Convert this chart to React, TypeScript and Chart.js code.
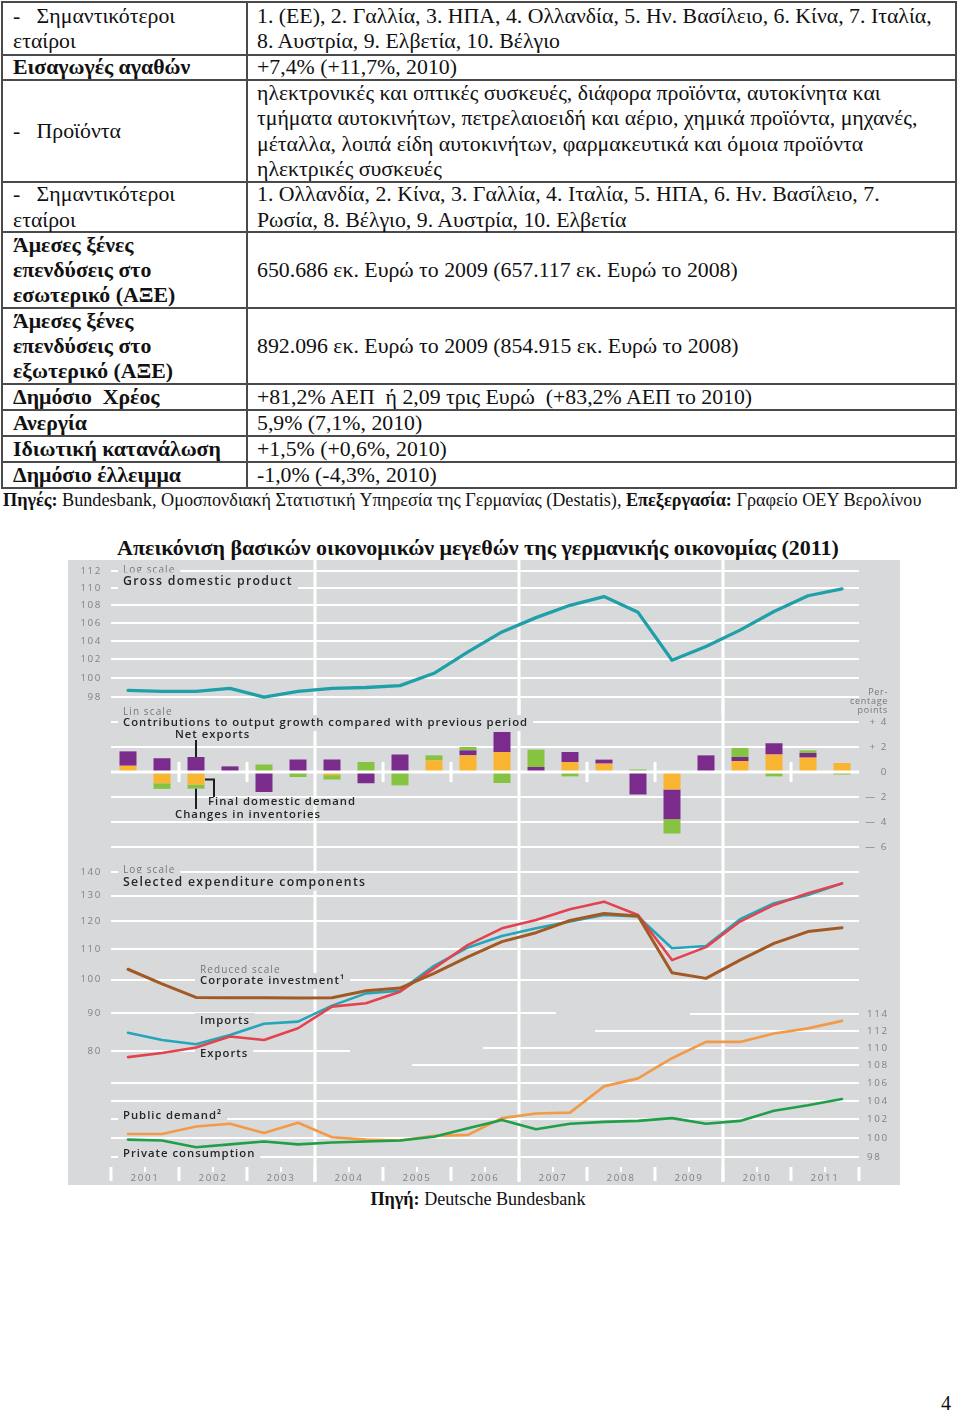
import React, { useEffect, useRef } from "react";
import { Chart, registerables } from "chart.js";
Chart.register(...registerables);

// ---------- data ----------
const HALF_YEARS = [
  "2001 H1", "2001 H2", "2002 H1", "2002 H2", "2003 H1", "2003 H2", "2004 H1", "2004 H2",
  "2005 H1", "2005 H2", "2006 H1", "2006 H2", "2007 H1", "2007 H2", "2008 H1", "2008 H2",
  "2009 H1", "2009 H2", "2010 H1", "2010 H2", "2011 H1", "2011 H2",
];
const YEARS = ["2001", "2002", "2003", "2004", "2005", "2006", "2007", "2008", "2009", "2010", "2011"];

const GDP = [98.7, 98.6, 98.6, 98.9, 98.0, 98.6, 98.9, 99.0, 99.2, 100.5, 102.8, 105.0, 106.6, 108.0, 109.0, 107.2, 101.9, 103.4, 105.2, 107.3, 109.1, 109.9];
const GDP_TICKS = [98, 100, 102, 104, 106, 108, 110, 112];

const FINAL_DOMESTIC_DEMAND = [0.5, -0.9, -1.0, 0, 0, 0, -0.25, 0, 0, 0.93, 1.33, 1.6, 0, 0.8, 0.67, 0, -1.4, 0, 0.88, 1.4, 1.15, 0.72];
const NET_EXPORTS = [1.15, 1.1, 1.2, 0.45, -1.6, 1.0, 1.0, -0.9, 1.4, 0, 0.4, 1.6, 0.4, 0.8, 0.32, -1.8, -2.37, 1.33, 0.32, 0.9, 0.37, 0];
const INVENTORIES = [0, -0.45, -0.33, 0, 0.6, -0.4, -0.35, 0.8, -1.07, 0.4, 0.27, -0.88, 1.39, -0.35, 0, 0.2, -1.15, 0, 0.72, -0.35, 0.21, -0.2];
const CONTRIB_TICKS = [4, 2, 0, -2, -4, -6];
const CONTRIB_TICK_LABELS = ["+ 4", "+ 2", "0", "— 2", "— 4", "— 6"];

const CORPORATE_INVESTMENT = [103.3, 98.7, 94.6, 94.5, 94.5, 94.4, 94.5, 96.6, 97.4, 102.0, 107.4, 112.6, 115.8, 120.3, 123.0, 122.0, 102.2, 100.4, 106.3, 112.0, 116.2, 117.6];
const EXPORTS = [78.5, 79.5, 80.9, 83.7, 82.8, 85.9, 91.9, 92.9, 96.3, 103.6, 111.5, 117.4, 120.5, 124.6, 127.6, 122.4, 106.3, 110.7, 119.9, 126.3, 131.0, 135.1];
const IMPORTS = [84.7, 82.8, 81.7, 84.1, 87.1, 87.7, 92.2, 95.8, 96.6, 104.4, 110.6, 114.6, 117.4, 119.9, 122.4, 121.8, 110.3, 111.1, 120.8, 127.0, 130.3, 135.1];
const PUBLIC_DEMAND = [100.4, 100.4, 101.2, 101.5, 100.5, 101.6, 100.05, 99.8, 99.7, 100.2, 100.3, 102.1, 102.6, 102.7, 105.6, 106.5, 108.8, 110.7, 110.7, 111.7, 112.3, 113.2];
const PRIVATE_CONSUMPTION = [99.8, 99.7, 99.0, 99.3, 99.6, 99.3, 99.5, 99.6, 99.7, 100.1, 101.0, 101.9, 100.9, 101.5, 101.7, 101.8, 102.1, 101.5, 101.8, 102.9, 103.5, 104.2];
const LEFT_TICKS = [140, 130, 120, 110, 100, 90, 80];
const RIGHT_TICKS = [114, 112, 110, 108, 106, 104, 102, 100, 98];

// ---------- styles ----------
const BG = "#d8d9db";
const DARK = "#262626";
const SANS = '"Open Sans", "Noto Sans", "DejaVu Sans", sans-serif';
const C_TEAL = "#1fa0a8";
const C_IMPORTS = "#25a6b8";
const C_EXPORTS = "#e2434f";
const C_CORP = "#a25a25";
const C_PUBLIC = "#f39a48";
const C_PRIVATE = "#1f9f48";
const C_PURPLE = "#7a2b8c";
const C_ORANGE = "#f9b531";
const C_GREEN = "#86c340";

type TextOpts = { size: number; weight?: number; color?: string; align?: CanvasTextAlign; spacing?: number; mask?: boolean };
const TITLE: TextOpts = { size: 12.3, weight: 600, color: DARK, spacing: 1.3, mask: true };
const NOTE: TextOpts = { size: 11.3, weight: 600, color: DARK, spacing: 1.0, mask: true };
const SCALE_NOTE: TextOpts = { size: 10, weight: 400, color: "#777777", spacing: 1.1, mask: true };
const TICK: TextOpts = { size: 9.8, weight: 400, color: "#828282", spacing: 1.6 };

function drawText(ctx: CanvasRenderingContext2D, text: string, x: number, y: number, o: TextOpts) {
  ctx.save();
  ctx.font = `${o.weight ?? 400} ${o.size}px ${SANS}`;
  (ctx as any).letterSpacing = `${o.spacing ?? 0}px`;
  ctx.textAlign = o.align ?? "left";
  ctx.textBaseline = "middle";
  if (o.mask) {
    const w = ctx.measureText(text).width;
    const x0 = ctx.textAlign === "right" ? x - w : ctx.textAlign === "center" ? x - w / 2 : x;
    ctx.fillStyle = BG;
    ctx.fillRect(x0 - 5, y - o.size * 0.7, w + 10, o.size * 1.4);
  }
  ctx.fillStyle = o.color ?? DARK;
  ctx.fillText(text, x, y);
  ctx.restore();
}

function hline(ctx: CanvasRenderingContext2D, x1: number, x2: number, y: number, w = 2) {
  ctx.save();
  ctx.fillStyle = "#ffffff";
  ctx.fillRect(x1, Math.round(y) - w / 2, x2 - x1, w);
  ctx.restore();
}

function threeYearLines(chart: any, y1: number, y2: number) {
  const x = chart.scales.x;
  const ctx = chart.ctx as CanvasRenderingContext2D;
  ctx.save();
  ctx.fillStyle = "#ffffff";
  [5.5, 11.5, 17.5].forEach((v) => {
    const px = x.getPixelForValue(v);
    ctx.fillRect(px - 1.5, y1, 3, y2 - y1);
  });
  ctx.restore();
}

const topDecor = {
  id: "topDecor",
  beforeDatasetsDraw(chart: any) {
    const { ctx, chartArea, scales } = chart;
    const { left, right } = chartArea;
    GDP_TICKS.forEach((v) => hline(ctx, left, right, scales.y.getPixelForValue(v)));
    threeYearLines(chart, 0, chart.height);
    drawText(ctx, "Log scale", left + 12, 10, SCALE_NOTE);
    drawText(ctx, "Gross domestic product", left + 12, 21, TITLE);
    GDP_TICKS.forEach((v) => drawText(ctx, String(v), left - 9, scales.y.getPixelForValue(v), { ...TICK, align: "right" }));
    const g: TextOpts = { size: 9, color: "#777777", spacing: 0.7, align: "right" };
    drawText(ctx, "Per-", right + 29, 132, g);
    drawText(ctx, "centage", right + 29, 141, g);
    drawText(ctx, "points", right + 29, 150, g);
  },
};

const midDecor = {
  id: "midDecor",
  beforeDatasetsDraw(chart: any) {
    const { ctx, chartArea, scales } = chart;
    const { left, right } = chartArea;
    CONTRIB_TICKS.forEach((v) => { if (v !== 0) hline(ctx, left, right, scales.y.getPixelForValue(v)); });
    threeYearLines(chart, 0, chart.height);
    drawText(ctx, "Lin scale", left + 12, 12, SCALE_NOTE);
    drawText(ctx, "Contributions to output growth compared with previous period", left + 12, 23, NOTE);
    CONTRIB_TICKS.forEach((v, i) =>
      drawText(ctx, CONTRIB_TICK_LABELS[i], right + 29, scales.y.getPixelForValue(v), { ...TICK, align: "right" }));
  },
  afterDatasetsDraw(chart: any) {
    const { ctx, chartArea, scales } = chart;
    const { left, right } = chartArea;
    const y0 = scales.y.getPixelForValue(0);
    hline(ctx, left, right, y0, 3);
    ctx.save();
    ctx.fillStyle = "#ffffff";
    for (let k = 1; k <= 10; k++) {
      if (k % 3 === 0) continue;
      const bx = scales.x.getPixelForValue(2 * k - 0.5);
      ctx.fillRect(bx - 1.5, y0 - 10, 3, 20);
    }
    ctx.restore();
    // annotations on the third bar
    const i = 2;
    const bx = scales.x.getPixelForValue(i);
    const vals = [FINAL_DOMESTIC_DEMAND[i], NET_EXPORTS[i], INVENTORIES[i]];
    const pos = vals.filter((v) => v > 0).reduce((a, b) => a + b, 0);
    const neg = vals.filter((v) => v < 0).reduce((a, b) => a + b, 0);
    ctx.save();
    ctx.strokeStyle = "#1e1e1e";
    ctx.lineWidth = 2;
    ctx.beginPath();
    ctx.moveTo(bx, 40);
    ctx.lineTo(bx, scales.y.getPixelForValue(pos));
    ctx.moveTo(bx, scales.y.getPixelForValue(neg));
    ctx.lineTo(bx, 109);
    const fy = scales.y.getPixelForValue(FINAL_DOMESTIC_DEMAND[i] * 0.6);
    ctx.moveTo(bx + 9, fy);
    ctx.lineTo(bx + 18, fy);
    ctx.lineTo(bx + 18, 97);
    ctx.stroke();
    ctx.restore();
    drawText(ctx, "Net exports", bx - 21, 35, { ...NOTE, mask: false });
    drawText(ctx, "Final domestic demand", bx + 12, 102, { ...NOTE, mask: false });
    drawText(ctx, "Changes in inventories", bx - 21, 115, { ...NOTE, mask: false });
  },
};

const LEFT_SPANS: Record<number, [number, number]> = { 90: [0, 488], 80: [0, 282] };
const RIGHT_SPANS: Record<number, [number, number]> = { 114: [622, 9999], 112: [527, 9999], 110: [415, 9999], 108: [344, 9999] };

const botDecor = {
  id: "botDecor",
  beforeDatasetsDraw(chart: any) {
    const { ctx, chartArea, scales } = chart;
    const { left, right } = chartArea;
    LEFT_TICKS.forEach((v) => {
      const s = LEFT_SPANS[v] ?? [0, 9999];
      hline(ctx, Math.max(left, s[0]), Math.min(right, s[1]), scales.y.getPixelForValue(v));
    });
    RIGHT_TICKS.forEach((v) => {
      const s = RIGHT_SPANS[v] ?? [0, 9999];
      hline(ctx, Math.max(left, s[0]), Math.min(right, s[1]), scales.y2.getPixelForValue(v));
    });
    threeYearLines(chart, 0, 322);
    drawText(ctx, "Log scale", left + 12, 10, SCALE_NOTE);
    drawText(ctx, "Selected expenditure components", left + 12, 22, TITLE);
    drawText(ctx, "Reduced scale", left + 89, 110, SCALE_NOTE);
    drawText(ctx, "Corporate investment\u00b9", left + 89, 121, NOTE);
    drawText(ctx, "Imports", left + 89, 161, NOTE);
    drawText(ctx, "Exports", left + 89, 194, NOTE);
    drawText(ctx, "Public demand\u00b2", left + 12, 256, NOTE);
    drawText(ctx, "Private consumption", left + 12, 294, NOTE);
    LEFT_TICKS.forEach((v) => drawText(ctx, String(v), left - 9, scales.y.getPixelForValue(v), { ...TICK, align: "right" }));
    RIGHT_TICKS.forEach((v) => drawText(ctx, String(v), right + 8, scales.y2.getPixelForValue(v), { ...TICK, align: "left" }));
    // time axis
    ctx.save();
    ctx.fillStyle = "#ffffff";
    for (let k = 0; k <= 11; k++) {
      const bx = scales.x.getPixelForValue(2 * k - 0.5);
      ctx.fillRect(bx - 1.5, 307, 3, 14);
    }
    ctx.restore();
    YEARS.forEach((yr, k) => {
      const cx = scales.x.getPixelForValue(2 * k + 0.5);
      ctx.save();
      ctx.fillStyle = "#ffffff";
      ctx.fillRect(cx - 1, 307, 2, 5);
      ctx.restore();
      drawText(ctx, yr, cx, 318, { ...TICK, align: "center" });
    });
  },
};

const PAD = { left: 43, right: 41 };
const xScale = { type: "category" as const, display: false, offset: true, grid: { display: false } };
const baseOptions = {
  animation: false as const,
  responsive: false,
  devicePixelRatio: 1,
  events: [] as any[],
  plugins: { legend: { display: false }, tooltip: { enabled: false } },
  elements: { point: { radius: 0 }, line: { tension: 0, borderCapStyle: "round" as const, borderJoinStyle: "round" as const } },
};

function topConfig(): any {
  return {
    type: "line",
    data: { labels: HALF_YEARS, datasets: [{ data: GDP, borderColor: C_TEAL, borderWidth: 3.3 }] },
    options: {
      ...baseOptions,
      layout: { padding: { ...PAD, top: 2, bottom: 13 } },
      scales: { x: xScale, y: { type: "logarithmic", display: false, min: 97.49, max: 113.07 } },
    },
    plugins: [topDecor],
  };
}

function midConfig(): any {
  const ds = (data: number[], color: string) => ({
    data, backgroundColor: color, borderWidth: 0, barPercentage: 0.5, categoryPercentage: 1, inflateAmount: 0,
  });
  return {
    type: "bar",
    data: {
      labels: HALF_YEARS,
      datasets: [ds(FINAL_DOMESTIC_DEMAND, C_ORANGE), ds(NET_EXPORTS, C_PURPLE), ds(INVENTORIES, C_GREEN)],
    },
    options: {
      ...baseOptions,
      layout: { padding: { ...PAD, top: 10, bottom: 5 } },
      scales: { x: { ...xScale, stacked: true }, y: { type: "linear", display: false, stacked: true, min: -6.64, max: 4.96 } },
    },
    plugins: [midDecor],
  };
}

function botConfig(): any {
  const ln = (data: number[], color: string, axis: string, w = 2.6) => ({ data, borderColor: color, borderWidth: w, yAxisID: axis });
  return {
    type: "line",
    data: {
      labels: HALF_YEARS,
      datasets: [
        ln(PRIVATE_CONSUMPTION, C_PRIVATE, "y2"),
        ln(PUBLIC_DEMAND, C_PUBLIC, "y2"),
        ln(CORPORATE_INVESTMENT, C_CORP, "y", 3),
        ln(EXPORTS, C_EXPORTS, "y"),
        ln(IMPORTS, C_IMPORTS, "y"),
      ],
    },
    options: {
      ...baseOptions,
      layout: { padding: { ...PAD, top: 4, bottom: 21 } },
      scales: {
        x: xScale,
        y: { type: "logarithmic", display: false, min: 56.2, max: 143.54 },
        y2: { type: "logarithmic", display: false, min: 97.25, max: 133.7 },
      },
    },
    plugins: [botDecor],
  };
}

// ---------- table ----------
const ROW_EDGES = [2, 55, 80, 182, 232, 308, 384, 410, 436, 462, 488];
const TABLE_ROWS: { left: string[]; bold: boolean; right: string[] }[] = [
  { left: ["-   Σημαντικότεροι", "εταίροι"], bold: false, right: ["1. (ΕΕ), 2. Γαλλία, 3. ΗΠΑ, 4. Ολλανδία, 5. Ην. Βασίλειο, 6. Κίνα, 7. Ιταλία,", "8. Αυστρία, 9. Ελβετία, 10. Βέλγιο"] },
  { left: ["Εισαγωγές αγαθών"], bold: true, right: ["+7,4% (+11,7%, 2010)"] },
  { left: ["-   Προϊόντα"], bold: false, right: ["ηλεκτρονικές και οπτικές συσκευές, διάφορα προϊόντα, αυτοκίνητα και", "τμήματα αυτοκινήτων, πετρελαιοειδή και αέριο, χημικά προϊόντα, μηχανές,", "μέταλλα, λοιπά είδη αυτοκινήτων, φαρμακευτικά και όμοια προϊόντα", "ηλεκτρικές συσκευές"] },
  { left: ["-   Σημαντικότεροι", "εταίροι"], bold: false, right: ["1. Ολλανδία, 2. Κίνα, 3. Γαλλία, 4. Ιταλία, 5. ΗΠΑ, 6. Ην. Βασίλειο, 7.", "Ρωσία, 8. Βέλγιο, 9. Αυστρία, 10. Ελβετία"] },
  { left: ["Άμεσες ξένες", "επενδύσεις στο", "εσωτερικό (ΑΞΕ)"], bold: true, right: ["650.686 εκ. Ευρώ το 2009 (657.117 εκ. Ευρώ το 2008)"] },
  { left: ["Άμεσες ξένες", "επενδύσεις στο", "εξωτερικό (ΑΞΕ)"], bold: true, right: ["892.096 εκ. Ευρώ το 2009 (854.915 εκ. Ευρώ το 2008)"] },
  { left: ["Δημόσιο  Χρέος"], bold: true, right: ["+81,2% ΑΕΠ  ή 2,09 τρις Ευρώ  (+83,2% ΑΕΠ το 2010)"] },
  { left: ["Ανεργία"], bold: true, right: ["5,9% (7,1%, 2010)"] },
  { left: ["Ιδιωτική κατανάλωση"], bold: true, right: ["+1,5% (+0,6%, 2010)"] },
  { left: ["Δημόσιο έλλειμμα"], bold: true, right: ["-1,0% (-4,3%, 2010)"] },
];
const COL_X = [2, 247, 956];

function Table() {
  const lineColor = "#4a4a4a";
  const cell = (x: number, top: number, h: number, lines: string[], bold: boolean, key: string) => (
    <div key={key} style={{ position: "absolute", left: x, top, height: h, display: "flex", flexDirection: "column", justifyContent: "center", whiteSpace: "pre", fontWeight: bold ? 700 : 400, lineHeight: "25.3px", fontSize: 21.8 }}>
      {lines.map((l, j) => <div key={j}>{l}</div>)}
    </div>
  );
  return (
    <>
      {ROW_EDGES.map((y, i) => (
        <div key={"h" + i} style={{ position: "absolute", left: COL_X[0], top: y - 1, width: COL_X[2] - COL_X[0] + 1, height: 2, background: lineColor }} />
      ))}
      {COL_X.map((x, i) => (
        <div key={"v" + i} style={{ position: "absolute", left: x - 1, top: ROW_EDGES[0] - 1, width: 2, height: ROW_EDGES[ROW_EDGES.length - 1] - ROW_EDGES[0] + 2, background: lineColor }} />
      ))}
      {TABLE_ROWS.map((r, i) => {
        const top = ROW_EDGES[i] + 1;
        const h = ROW_EDGES[i + 1] - ROW_EDGES[i] - 1;
        return [cell(13, top, h, r.left, r.bold, "l" + i), cell(257, top, h, r.right, false, "r" + i)];
      })}
    </>
  );
}

export default function App() {
  const topRef = useRef<HTMLCanvasElement>(null);
  const midRef = useRef<HTMLCanvasElement>(null);
  const botRef = useRef<HTMLCanvasElement>(null);
  useEffect(() => {
    const charts = [
      new Chart(topRef.current!, topConfig()),
      new Chart(midRef.current!, midConfig()),
      new Chart(botRef.current!, botConfig()),
    ];
    return () => charts.forEach((c) => c.destroy());
  }, []);
  const cv = (top: number, h: number): React.CSSProperties => ({ position: "absolute", left: 0, top, width: 832, height: h });
  return (
    <div style={{ position: "absolute", left: 0, top: 0, width: 960, height: 1414, background: "#fff", color: "#111", fontFamily: '"Liberation Serif", "Times New Roman", serif', overflow: "hidden" }}>
      <Table />
      <div style={{ position: "absolute", left: 3, top: 489, whiteSpace: "pre", fontSize: 18.2, lineHeight: "22px" }}>
        <b>Πηγές:</b> Bundesbank, Ομοσπονδιακή Στατιστική Υπηρεσία της Γερμανίας (Destatis), <b>Επεξεργασία:</b> Γραφείο ΟΕΥ Βερολίνου
      </div>
      <div style={{ position: "absolute", left: 0, top: 535, width: 956, textAlign: "center", fontWeight: 700, fontSize: 22, lineHeight: "26px", whiteSpace: "pre" }}>
        Απεικόνιση βασικών οικονομικών μεγεθών της γερμανικής οικονομίας (2011)
      </div>
      <div style={{ position: "absolute", left: 68, top: 560, width: 832, height: 625, background: BG }}>
        <canvas ref={topRef} width={832} height={155} style={cv(0, 155)} />
        <canvas ref={midRef} width={832} height={160} style={cv(140, 160)} />
        <canvas ref={botRef} width={832} height={325} style={cv(300, 325)} />
      </div>
      <div style={{ position: "absolute", left: 0, top: 1188, width: 956, textAlign: "center", fontSize: 18.1, lineHeight: "22px", whiteSpace: "pre" }}>
        <b>Πηγή:</b> Deutsche Bundesbank
      </div>
      <div style={{ position: "absolute", left: 941, top: 1391, fontSize: 20, lineHeight: "24px" }}>4</div>
    </div>
  );
}
